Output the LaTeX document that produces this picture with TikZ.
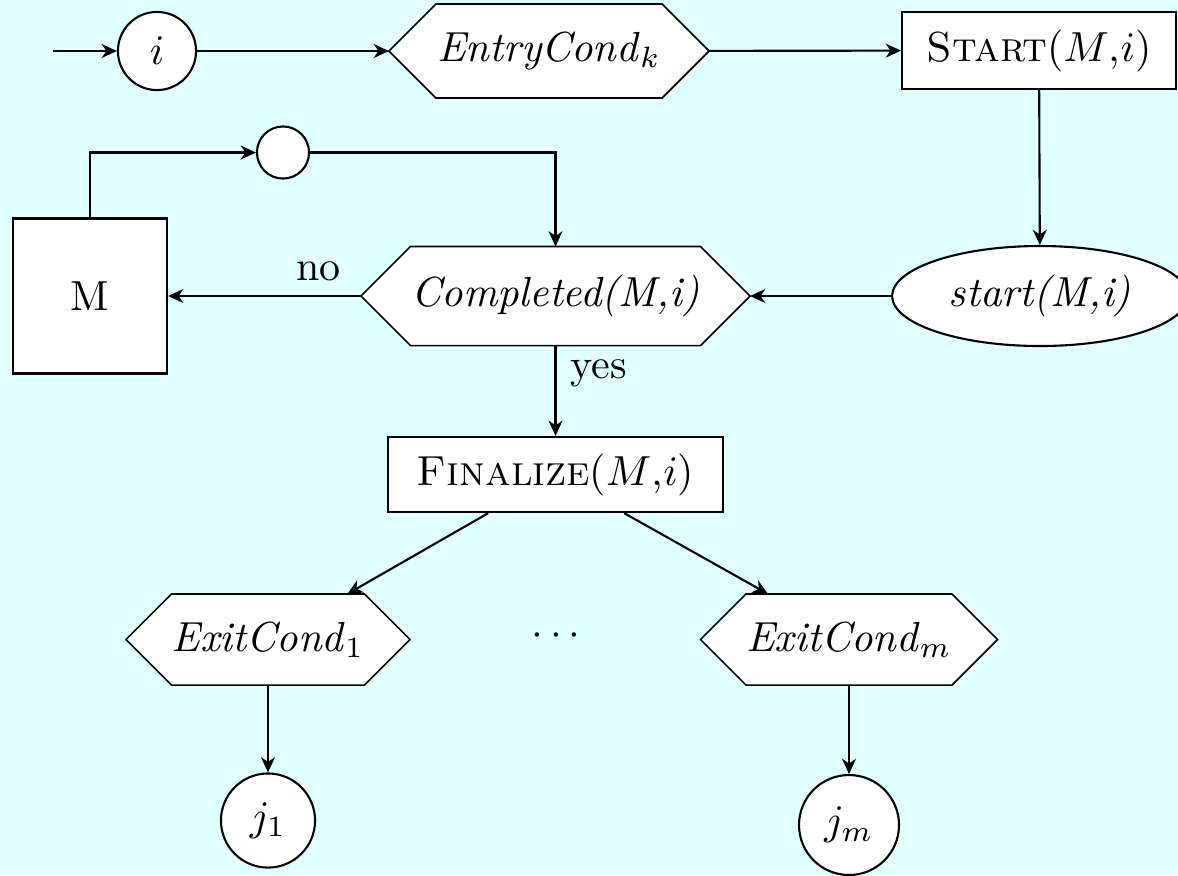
\documentclass[tikz,border=0pt]{standalone}
\usetikzlibrary{arrows.meta,shapes.geometric,calc,backgrounds}
\definecolor{bgcyan}{RGB}{224,255,255}
\newcommand\hexof[1]{%
  \draw[fill=white] let \p1=(#1.north west), \p2=(#1.south east), \n1={(\y1-\y2)/2} in
    (#1.west) -- (\x1+\n1,\y1) -- (\x2-\n1,\y1) -- (#1.east) -- (\x2-\n1,\y2) -- (\x1+\n1,\y2) -- cycle;}
\tikzset{
  boxn/.style={draw, fill=white, rectangle, inner sep=1pt},
  circn/.style={draw, fill=white, circle, inner sep=1pt},
  hexn/.style={rectangle, inner sep=1pt},
  ellin/.style={draw, fill=white, ellipse, inner sep=1pt},
  conn/.style={->},
}
\begin{document}
\begin{tikzpicture}[x=0.238pt, y=-0.238pt, line width=0.5pt, >={Stealth[length=3.6pt,width=3.3pt,inset=1.1pt]}]
\useasboundingbox (0,0) rectangle (1178,875);
\begin{scope}[on background layer]
  \fill[bgcyan] (0,0) rectangle (1178,875);
\end{scope}
% nodes
\coordinate (in) at (53,51);
\node[circn, minimum size=18.6pt] (ci) at (157,51) {$i$};
\node[hexn, minimum width=75.7pt, minimum height=21.9pt] (entry) at (549,51) {\textit{EntryCond}$_k$};
\node[boxn, minimum width=65.2pt, minimum height=18.3pt] (startbox) at (1039,50.5) {\textsc{Start}($M$,$i$)};
\node[ellin, minimum width=70.4pt, minimum height=23.8pt] (startell) at (1040,296) {\textit{start(M,i)}};
\node[hexn, minimum width=92.1pt, minimum height=23.1pt] (compl) at (555.5,296) {\textit{Completed(M,i)}};
\node[boxn, minimum width=36.7pt, minimum height=36.9pt] (mbox) at (90,296) {M};
\node[circn, minimum size=12.4pt] (loopc) at (283,152.5) {};
\node[boxn, minimum width=79.7pt, minimum height=17.9pt] (fin) at (555.5,474.5) {\textsc{Finalize}($M$,$i$)};
\node[hexn, minimum width=67.1pt, minimum height=21.2pt] (ex1) at (268,639.5) {\textit{ExitCond}$_1$};
\node[hexn, minimum width=70.2pt, minimum height=21.2pt] (exm) at (849,639.5) {\textit{ExitCond}$_m$};
\node[anchor=base, inner sep=0pt] (dots) at (556,645) {$\cdots$};
\node[circn, minimum size=22.4pt] (j1) at (268,820.5) {$j_1$};
\node[circn, minimum size=23.8pt] (jm) at (849,825) {$j_m$};
\begin{scope}[on background layer]
  \hexof{entry}
  \hexof{compl}
  \hexof{ex1}
  \hexof{exm}
\end{scope}
% connectors
\draw[conn] (in) -- (ci);
\draw[conn] (ci) -- (entry);
\draw[conn] (entry) -- (startbox);
\draw[conn] (startbox) -- (startell);
\draw[conn] (startell) -- (compl);
\draw[conn] (compl) -- node[above, pos=0.22] (nolab) {no} (mbox);
\draw[conn] (mbox.north) |- (loopc);
\draw[conn] (loopc) -| (compl);
\draw[conn] (compl) -- node[right, pos=0.31] (yeslab) {yes} (fin);
\draw[conn] (fin) -- (ex1);
\draw[conn] (fin) -- (exm);
\draw[conn] (ex1) -- (j1);
\draw[conn] (exm) -- (jm);
\end{tikzpicture}
\end{document}
